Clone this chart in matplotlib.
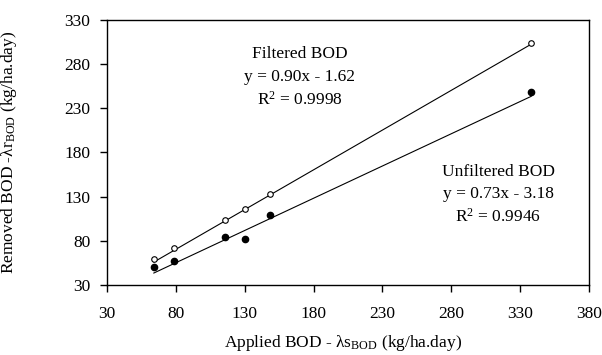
import matplotlib
matplotlib.use("Agg")
import matplotlib.pyplot as plt
import numpy as np

plt.rcParams['font.family'] = ['Liberation Serif', 'DejaVu Serif']
plt.rcParams['mathtext.fontset'] = 'custom'
plt.rcParams['mathtext.rm'] = 'Liberation Serif'
plt.rcParams['mathtext.it'] = 'Liberation Serif:italic'

applied = [64, 79, 116, 130, 148, 338]
filtered = [59, 72, 104, 116, 133, 304]
unfiltered = [50, 57, 84, 82, 109, 248]

fit_f = (0.90, -1.62)
fit_u = (0.73, -3.18)

xticks = [30, 80, 130, 180, 230, 280, 330, 380]
yticks = [30, 80, 130, 180, 230, 280, 330]

FS = 12.5

fig = plt.figure(figsize=(6.02, 3.55), dpi=100)
ax = fig.add_axes([107/602, 1-285/355, (589-107)/602, (285-20)/355])

xs = np.array([min(applied), max(applied)])
ax.plot(xs, fit_f[0]*xs + fit_f[1], color='black', lw=0.8)
ax.plot(xs, fit_u[0]*xs + fit_u[1], color='black', lw=0.8)
ax.plot(applied, filtered, 'o', ms=4, mfc='white', mec='black', mew=0.8)
ax.plot(applied, unfiltered, 'o', ms=4.5, mfc='black', mec='black')

ax.set_xlim(30, 380)
ax.set_ylim(30, 330)
ax.set_xticks(xticks)
ax.set_yticks(yticks)
ax.tick_params(direction='out', length=5, width=1, labelsize=FS)
ax.tick_params(axis='x', pad=10)
ax.tick_params(axis='y', pad=7)
for s in ax.spines.values():
    s.set_linewidth(1)

ax.set_xlabel(r'Applied BOD - λs$_{\mathrm{BOD}}$ (kg/ha.day)', fontsize=FS)
ax.set_ylabel(r'Removed BOD -λr$_{\mathrm{BOD}}$ (kg/ha.day)', fontsize=FS)
ax.xaxis.set_label_coords(0.49, -0.18)
ax.yaxis.set_label_coords(-0.182, 0.5)

ax.text(170, 291, 'Filtered BOD', ha='center', va='center', fontsize=FS)
ax.text(170, 266, 'y = 0.90x - 1.62', ha='center', va='center', fontsize=FS)
ax.text(170, 240, r'R$^2$ = 0.9998', ha='center', va='center', fontsize=FS)

ax.text(314, 158, 'Unfiltered BOD', ha='center', va='center', fontsize=FS)
ax.text(314, 133, 'y = 0.73x - 3.18', ha='center', va='center', fontsize=FS)
ax.text(314, 107, r'R$^2$ = 0.9946', ha='center', va='center', fontsize=FS)

fig.savefig('out.png', dpi=100)
